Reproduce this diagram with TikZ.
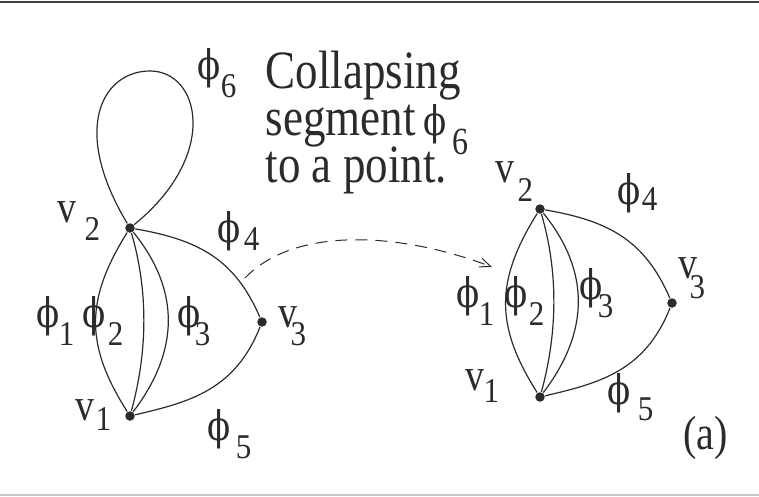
\documentclass[tikz,border=0pt]{standalone}
\usepackage{fontspec}
\setmainfont{Liberation Serif}
\newfontfamily\phif{DejaVu Serif}
\usetikzlibrary{arrows.meta}
\definecolor{ink}{HTML}{2B2B2B}
\newcommand{\st}[1]{\scalebox{1}[1.2]{#1}}
\newcommand{\dg}[1]{\scalebox{1}[1.12]{\fontsize{31}{31}\selectfont #1}}
\newcommand{\phl}[3]{\st{\phif\fontsize{34}{34}\selectfont ϕ}\hspace{#1}\raisebox{-#2}{\dg{#3}}}
\newcommand{\vlb}[3]{\st{\fontsize{38}{38}\selectfont v}\hspace{#1}\raisebox{-#2}{\dg{#3}}}
\begin{document}
\begin{tikzpicture}[x=1pt,y=-1pt,line width=1.2pt,color=ink,
  vtx/.style={circle,fill=ink,inner sep=0pt,minimum size=9.5pt},
  lbl/.style={anchor=base west,inner sep=0pt,text=ink},
  arr/.style={line width=1pt,dash pattern=on 12pt off 8pt,-{Straight Barb[length=11pt,width=9pt]}}]
\path[use as bounding box] (0,0) rectangle (759,497);
% frame lines
\draw[line width=2pt,color=black!75] (0,2) -- (759,2);
\draw[line width=1.5pt,color=black!22] (0,495) -- (759,495);
% left graph
\node[vtx] (L2) at (130,228) {};
\node[vtx] (L1) at (130,416) {};
\node[vtx] (L3) at (262,322) {};
\coordinate (Ltop) at (150,71);
\draw (L2) .. controls (70,128) and (103,71) .. (Ltop) .. controls (200,71) and (220,155) .. (L2);
\draw (L2) .. controls (85,300) and (85,345) .. (L1);
\draw (L2) .. controls (148,290) and (148,350) .. (L1);
\draw (L2) .. controls (180,290) and (180,350) .. (L1);
\draw (L2) .. controls (200,240) and (235,260) .. (L3);
\draw (L1) .. controls (190,402) and (235,390) .. (L3);
% right graph
\node[vtx] (R2) at (540,209) {};
\node[vtx] (R1) at (540,397) {};
\node[vtx] (R3) at (672,303) {};
\begin{scope}[shift={(410,-19)}]
\draw (R2) .. controls (85,300) and (85,345) .. (R1);
\draw (R2) .. controls (148,290) and (148,350) .. (R1);
\draw (R2) .. controls (180,290) and (180,350) .. (R1);
\draw (R2) .. controls (200,240) and (235,260) .. (R3);
\draw (R1) .. controls (190,402) and (235,390) .. (R3);
\end{scope}
% dashed arrow
\coordinate (aS) at (245,278);
\coordinate (aE) at (492,267);
\draw[arr] (aS) .. controls (295,226) and (400,232) .. (aE);
% text block
\node[lbl] (txt) at (265,182) {\st{\vbox{\fontsize{45}{39}\selectfont\lineskiplimit=-100pt
  \hbox{Collapsing}\hbox{segment\,{\phif\fontsize{34}{34}\selectfont ϕ}\hspace{6pt}\raisebox{-16pt}{\fontsize{32}{32}\selectfont 6}}\hbox{to a point.}}}};
% left labels
\node[lbl] (lv2) at (57,222) {\vlb{8pt}{18pt}{2}};
\node[lbl] (lv1) at (75,420) {\vlb{1pt}{10pt}{1}};
\node[lbl] (lv3) at (278,327) {\vlb{-7pt}{18pt}{3}};
\node[lbl] (lp1) at (36,327) {\phl{-1pt}{18pt}{1}};
\node[lbl] (lp2) at (82,327) {\phl{2pt}{18pt}{2}};
\node[lbl] (lp3) at (177,327) {\phl{-6pt}{18pt}{3}};
\node[lbl] (lp4) at (217,242) {\phl{3pt}{8pt}{4}};
\node[lbl] (lp5) at (207,440) {\phl{5pt}{18pt}{5}};
\node[lbl] (lp6) at (197,80) {\phl{0pt}{18pt}{6}};
% right labels
\node[lbl] (rv2) at (495,182) {\vlb{3pt}{20pt}{2}};
\node[lbl] (rv1) at (465,390) {\vlb{-1pt}{12pt}{1}};
\node[lbl] (rv3) at (678,278) {\vlb{-8pt}{20pt}{3}};
\node[lbl] (rp1) at (456,307) {\phl{-1pt}{18pt}{1}};
\node[lbl] (rp2) at (504,307) {\phl{1pt}{18pt}{2}};
\node[lbl] (rp3) at (579,299) {\phl{-5pt}{18pt}{3}};
\node[lbl] (rp4) at (617,204) {\phl{1pt}{6pt}{4}};
\node[lbl] (rp5) at (607,404) {\phl{7pt}{16pt}{5}};
\node[lbl] (cap) at (683,449) {\st{\fontsize{40}{40}\selectfont (a)}};
\end{tikzpicture}
\end{document}
